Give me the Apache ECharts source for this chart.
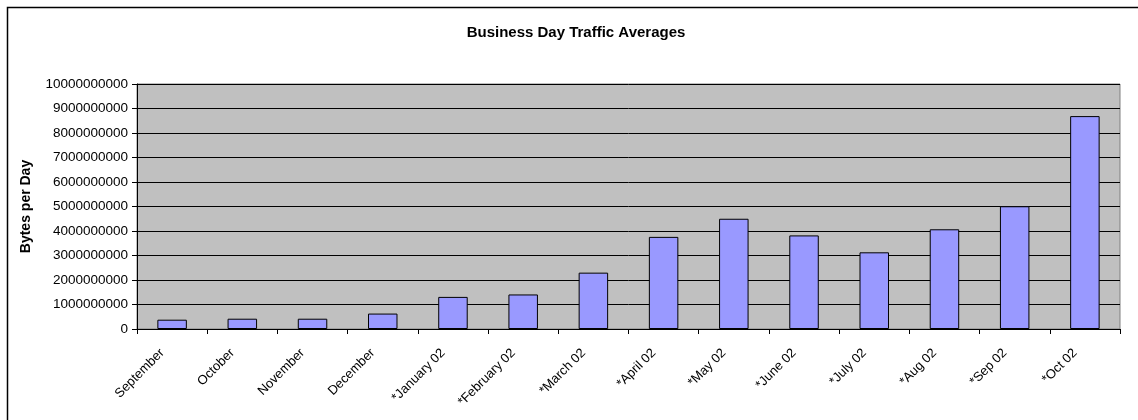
<!DOCTYPE html>
<html>
<head>
<meta charset="utf-8">
<script src="https://cdn.jsdelivr.net/npm/echarts@6/dist/echarts.min.js"></script>
<style>html,body{margin:0;padding:0;background:#fff;}#c{width:1138px;height:420px;}</style>
</head>
<body>
<div id="c"></div>
<script>
var categories = ['September','October','November','December','*January 02','*February 02','*March 02','*April 02','*May 02','*June 02','*July 02','*Aug 02','*Sep 02','*Oct 02'];
var bytesPerDay = [380000000, 420000000, 420000000, 630000000, 1310000000, 1410000000, 2300000000, 3760000000, 4500000000, 3820000000, 3130000000, 4070000000, 5010000000, 8690000000];
var yTicks = {min: 0, max: 10000000000, interval: 1000000000};

var chart = echarts.init(document.getElementById('c'), null, {renderer: 'canvas'});
var font = 'Arial, "Liberation Sans", sans-serif';
chart.setOption({
  animation: false,
  backgroundColor: '#ffffff',
  title: {
    text: 'Business Day Traffic Averages',
    left: 571, top: 20, textAlign: 'center',
    textStyle: {fontFamily: font, fontSize: 15, fontWeight: 'bold', color: '#000'}
  },
  graphic: [{
    type: 'rect', z: -1, silent: true,
    shape: {x: 7.5, y: 7.5, width: 1200, height: 500},
    style: {fill: 'none', stroke: '#000', lineWidth: 1.5}
  }],
  grid: {
    left: 137, top: 84, right: 18, bottom: 91,
    show: true, backgroundColor: '#c0c0c0', borderColor: '#808080', borderWidth: 1
  },
  xAxis: {
    type: 'category',
    data: categories,
    axisLine: {lineStyle: {color: '#000', width: 1}},
    axisTick: {show: true, length: 5, lineStyle: {color: '#000'}},
    axisLabel: {rotate: 45, fontFamily: font, fontSize: 13, color: '#000', margin: 12, interval: 0,
      padding: [0, 14, 0, 0]}
  },
  yAxis: {
    type: 'value',
    min: yTicks.min, max: yTicks.max, interval: yTicks.interval,
    name: 'Bytes per Day', nameLocation: 'middle', nameGap: 104, nameRotate: 90,
    nameTextStyle: {fontFamily: font, fontSize: 14, fontWeight: 'bold', color: '#000'},
    axisLine: {show: true, lineStyle: {color: '#000', width: 1}},
    axisTick: {show: true, length: 5, lineStyle: {color: '#000'}},
    splitLine: {show: true, lineStyle: {color: '#000', width: 1}},
    axisLabel: {fontFamily: font, fontSize: 13.5, color: '#000', margin: 9,
      formatter: function (v) { return String(v); }}
  },
  series: [{
    type: 'bar',
    data: bytesPerDay,
    barWidth: '42%',
    itemStyle: {color: '#9999ff', borderColor: '#000', borderWidth: 1}
  }]
});
</script>
</body>
</html>
